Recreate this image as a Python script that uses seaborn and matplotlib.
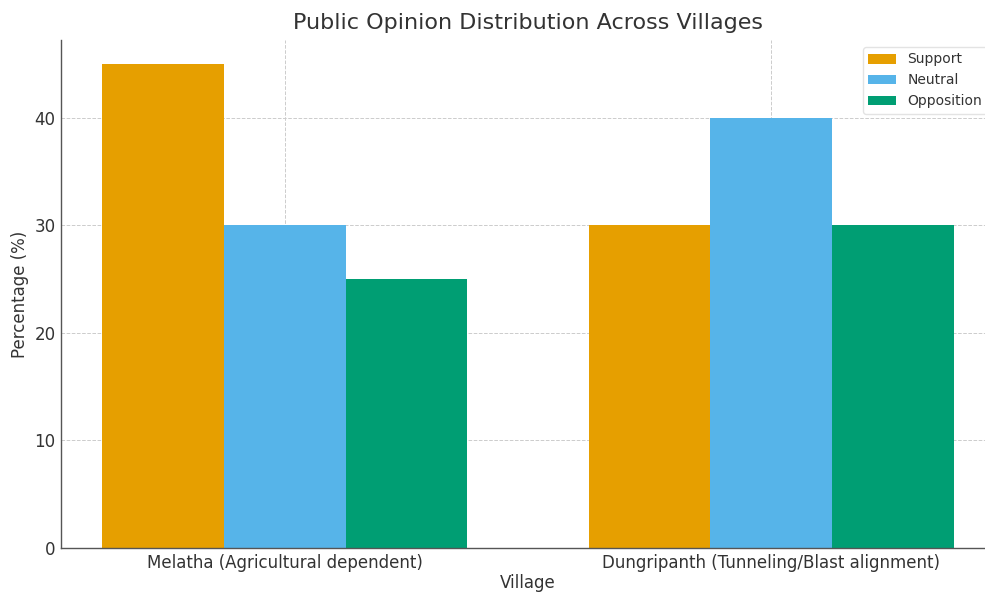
import matplotlib
matplotlib.use("Agg")
import matplotlib.pyplot as plt
import seaborn as sns
import pandas as pd

villages = ["Melatha (Agricultural dependent)", "Dungripanth (Tunneling/Blast alignment)"]
opinions = ["Support", "Neutral", "Opposition"]
support = [45, 30]
neutral = [30, 40]
opposition = [25, 30]
colors = ["#E69F00", "#56B4E9", "#009E73"]

df = pd.DataFrame({
    "Village": villages * 3,
    "Opinion": [o for o in opinions for _ in villages],
    "Percentage": support + neutral + opposition,
})

sns.set_style("white")
text_color = "#333333"
plt.rcParams.update({
    "font.family": ["DejaVu Sans"],
    "text.color": text_color,
    "axes.labelcolor": text_color,
    "xtick.color": text_color,
    "ytick.color": text_color,
})

fig = plt.figure(figsize=(9.85, 5.94), dpi=100)
ax = fig.add_axes([61 / 985, 1 - 548 / 594, (995 - 61) / 985, (548 - 40) / 594])

sns.barplot(data=df, x="Village", y="Percentage", hue="Opinion",
            hue_order=opinions, palette=colors, width=0.75,
            saturation=1, edgecolor="none", linewidth=0, ax=ax)

ax.set_xlim(-0.46, 1.46)
ax.set_ylim(0, 47.25)
ax.set_yticks([0, 10, 20, 30, 40])
ax.grid(True, linestyle="--", linewidth=0.7, color="#cccccc")
ax.set_axisbelow(True)
ax.tick_params(axis="both", labelsize=12, length=0, pad=4)
for side in ["top", "right"]:
    ax.spines[side].set_visible(False)
for side in ["left", "bottom"]:
    ax.spines[side].set_color("#555555")
    ax.spines[side].set_linewidth(1.0)

ax.set_title("Public Opinion Distribution Across Villages", fontsize=16, pad=8)
ax.set_xlabel("Village", fontsize=12, labelpad=1.5)
ax.set_ylabel("Percentage (%)", fontsize=12)

leg = ax.legend(loc="upper right", fontsize=10, frameon=True,
                bbox_to_anchor=(0.9995, 1.0))
leg.set_title(None)
leg.get_frame().set_edgecolor("#dddddd")

fig.savefig("out.png", dpi=100)
